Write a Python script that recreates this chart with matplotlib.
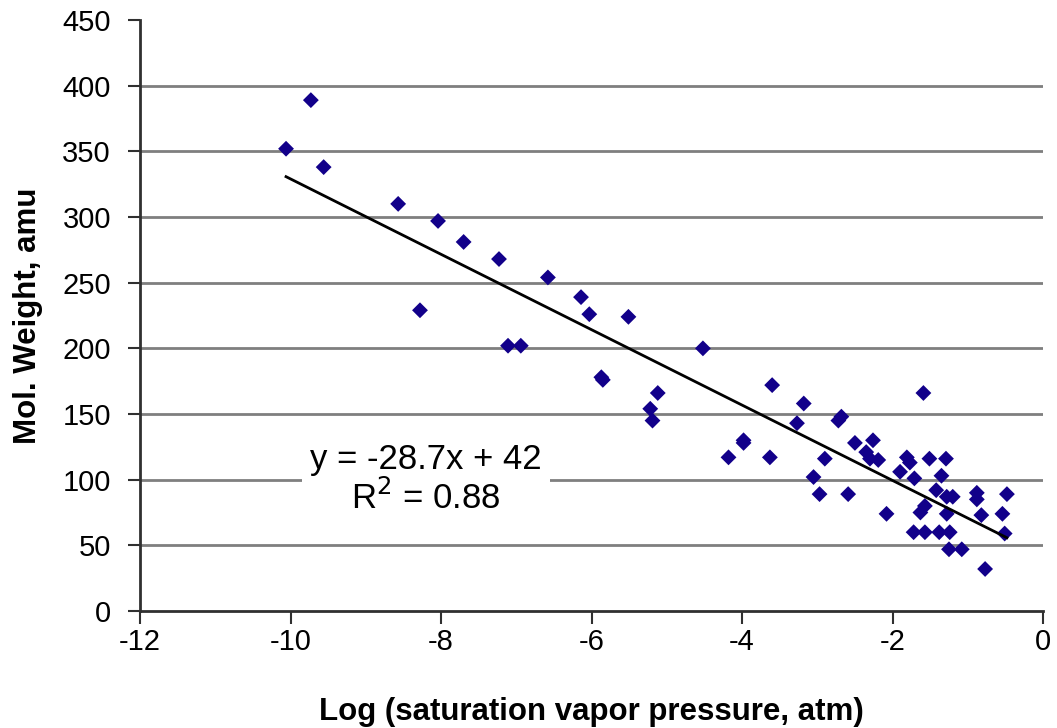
import matplotlib
matplotlib.use("Agg")
import matplotlib.pyplot as plt
import numpy as np

plt.rcParams['font.family'] = ['Liberation Sans', 'DejaVu Sans']
plt.rcParams['axes.unicode_minus'] = False

# Data
log_vapor_pressure = [
    -10.06, -9.73, -9.56, -8.57, -8.28, -8.04, -7.70, -7.23, -7.11, -6.94,
    -6.58, -6.14, -6.03, -5.51, -5.87, -5.85, -5.12, -5.22, -5.19, -4.52,
    -4.18, -3.98, -3.98, -3.63, -3.60, -3.18, -3.27, -2.90, -3.05, -2.97,
    -2.72, -2.68, -2.59, -2.50, -2.26, -2.35, -2.30, -2.19, -2.08, -1.81,
    -1.77, -1.90, -1.71, -1.59, -1.51, -1.29, -1.35, -1.42, -1.28, -1.20,
    -1.57, -1.63, -1.28, -1.72, -1.57, -1.38, -1.24, -1.25, -1.08, -0.88,
    -0.88, -0.48, -0.54, -0.82, -0.51, -0.77,
]
mol_weight = [
    352, 389, 338, 310, 229, 297, 281, 268, 202, 202,
    254, 239, 226, 224, 178, 176, 166, 154, 145, 200,
    117, 130, 128, 117, 172, 158, 143, 116, 102, 89,
    145, 148, 89, 128, 130, 121, 116, 115, 74, 117,
    113, 106, 101, 166, 116, 116, 103, 92, 87, 87,
    80, 75, 74, 60, 60, 60, 60, 47, 47, 90,
    85, 89, 74, 73, 59, 32,
]
fit_slope = -28.7
fit_intercept = 42
fit_r2 = 0.88

x_ticks = [-12, -10, -8, -6, -4, -2, 0]
y_ticks = [0, 50, 100, 150, 200, 250, 300, 350, 400, 450]

fig = plt.figure(figsize=(10.57, 7.28), dpi=100)
ax = fig.add_axes([0.1325, 0.1607, 0.8543, 0.8118])

for yv in y_ticks[1:-1]:
    ax.axhline(yv, color='#7f7f7f', lw=2.0, zorder=1)

ax.scatter(log_vapor_pressure, mol_weight, marker='D', s=65,
           color='#12008a', edgecolors='none', zorder=3)

xs = np.array([min(log_vapor_pressure), max(log_vapor_pressure)])
ax.plot(xs, fit_slope * xs + fit_intercept, color='black', lw=2.0, zorder=4)

ax.text(-8.2, 100, f"y = {fit_slope}x + {fit_intercept}\nR$^2$ = {fit_r2}",
        ha='center', va='center', fontsize=25, linespacing=1.15,
        bbox=dict(facecolor='white', edgecolor='none', pad=6), zorder=5)

ax.set_xlim(-12, 0)
ax.set_ylim(0, 450)
ax.set_xticks(x_ticks)
ax.set_yticks(y_ticks)
ax.tick_params(axis='both', direction='out', length=9, width=1.5,
               color='#303030', labelsize=21)
ax.tick_params(axis='y', pad=12)
ax.tick_params(axis='x', pad=3)
for s in ['top', 'right']:
    ax.spines[s].set_visible(False)
for s in ['left', 'bottom']:
    ax.spines[s].set_linewidth(2.0)
    ax.spines[s].set_color('#303030')

ax.set_xlabel('Log (saturation vapor pressure, atm)', fontsize=22.5,
              fontweight='bold', labelpad=30)
ax.set_ylabel('Mol. Weight, amu', fontsize=22.5, fontweight='bold', labelpad=14)

fig.savefig('out.png', dpi=100)
